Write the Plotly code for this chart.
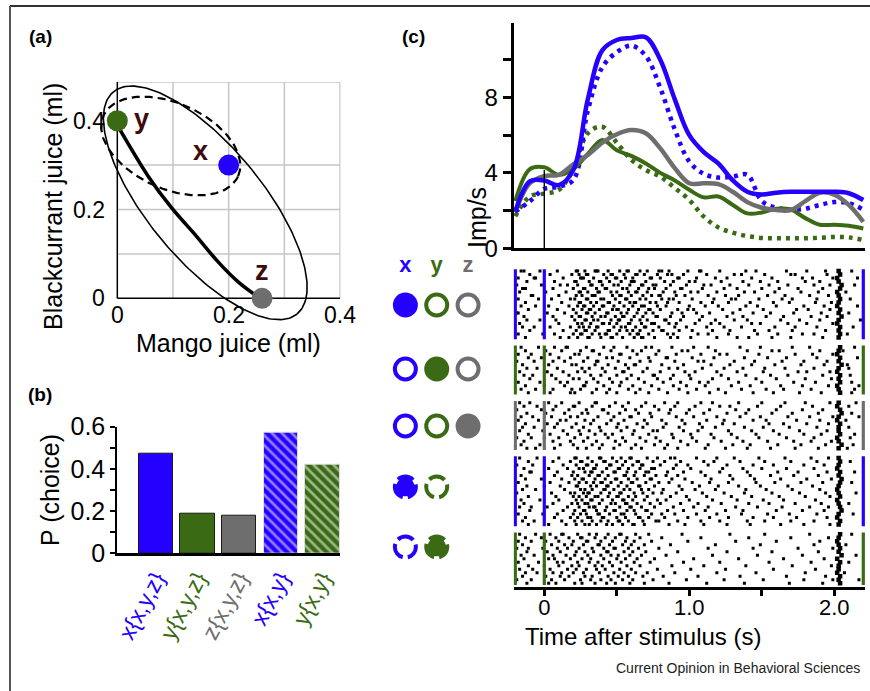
import numpy as np
import plotly.graph_objects as go

W, H = 870, 691
FONT = "Liberation Sans, Arial, Helvetica, sans-serif"
BLUE = "#2400ff"
GREEN = "#3a6b14"
GREY = "#6e6e6e"
MAROON = "#3d0b0b"

# ---------------- (a) data ----------------
options = ["x", "y", "z"]
mango_ml = [0.20, 0.00, 0.26]
blackcurrant_ml = [0.30, 0.40, 0.00]
option_colors = [BLUE, GREEN, GREY]
indiff_mango = [0.0, 0.056, 0.098, 0.14, 0.181, 0.217, 0.245]
indiff_black = [0.39, 0.274, 0.203, 0.143, 0.082, 0.037, 0.01]
# ellipses: centre and two conjugate semi-diameters (ml)
ell_solid_center = [0.158, 0.215]
ell_solid_u = [0.165, -0.250]
ell_solid_v = [0.079, 0.082]
ell_dash_center = [0.096, 0.343]
ell_dash_u = [0.121, -0.068]
ell_dash_v = [0.031, 0.088]
a_ticks = [0.0, 0.2, 0.4]
a_ticktext = ["0", "0.2", "0.4"]
a_grid = [0.1, 0.2, 0.3, 0.4]

# ---------------- (b) data ----------------
choice_labels = ["x{x,y,z}", "y{x,y,z}", "z{x,y,z}", "x{x,y}", "y{x,y}"]
p_choice = [0.47, 0.186, 0.178, 0.573, 0.418]
choice_colors = [BLUE, GREEN, GREY, BLUE, GREEN]
choice_hatched = [False, False, False, True, True]

# ---------------- (c) data ----------------
time_s = [-0.2, -0.1, 0.0, 0.1, 0.2, 0.3, 0.4, 0.5, 0.6, 0.7, 0.8, 0.9, 1.0,
          1.1, 1.2, 1.3, 1.4, 1.5, 1.6, 1.7, 1.8, 1.9, 2.0, 2.1, 2.2]
rate_x_xyz = [1.94, 3.55, 3.6, 3.35, 4.15, 7.9, 10.5, 11.05, 11.15, 11.2, 10.0, 7.9, 6.0,
              5.1, 4.5, 3.6, 3.0, 2.85, 2.95, 3.0, 3.0, 3.0, 3.0, 2.92, 2.56]
rate_x_xy = [1.94, 2.5, 3.15, 3.27, 3.62, 7.3, 9.6, 10.4, 10.75, 10.2, 8.5, 6.3, 4.6,
             3.95, 3.75, 3.8, 3.9, 2.5, 2.15, 2.05, 2.1, 2.3, 2.45, 2.4, 2.05]
rate_y_xyz = [2.5, 4.2, 4.3, 3.9, 4.2, 5.0, 5.75, 5.2, 4.9, 4.5, 4.0, 3.6, 3.1,
              2.7, 2.75, 2.3, 1.85, 1.9, 2.1, 2.05, 1.6, 1.25, 1.25, 1.2, 1.05]
rate_y_xy = [1.7, 2.75, 2.9, 3.1, 4.2, 6.1, 6.45, 5.6, 4.7, 4.15, 3.8, 3.2, 2.56,
             1.68, 1.11, 0.83, 0.65, 0.55, 0.53, 0.53, 0.53, 0.56, 0.6, 0.58, 0.44]
rate_z_xyz = [1.94, 3.45, 3.83, 3.9, 4.45, 4.95, 5.6, 6.05, 6.27, 6.1, 5.3, 4.25, 3.45,
              3.45, 3.4, 3.0, 2.45, 2.15, 2.03, 2.03, 2.5, 2.95, 2.85, 2.3, 1.4]
stim_marker_top = 4.15
c_yticks = [0, 2, 4, 6, 8, 10]
c_yticktext = ["0", "", "4", "", "8", ""]
t_ticks = [0, 0.5, 1.0, 1.5, 2.0]
t_ticktext = ["0", "", "1.0", "", "2.0"]
trial_window = [-0.2, 2.2]

# raster: spike times (centiseconds after stimulus), one string per trial
raster_x_xyz = [
    "-16 -14 -3 9 22 23 28 35 36 37 44 52 57 58 66 71 79 81 86 99 107 108 121 139 146 167 181 194 212",
    "-10 4 19 24 29 30 41 46 47 55 63 64 69 78 85 88 96 112 131 136 152 170 173 195",
    "-18 -7 -6 13 25 26 27 34 43 49 50 56 61 73 74 80 92 93 105 118 126 143 157 178 185 199 216",
    "-12 7 21 22 31 38 39 45 53 60 61 62 70 83 89 100 104 122 137 149 161 180 190",
    "-19 -2 11 16 23 32 33 40 48 51 59 67 68 75 77 87 98 110 115 128 141 155 168 186 197 214",
    "-15 -13 6 20 27 28 36 42 43 54 57 65 72 76 84 94 95 109 124 133 150 162 175 192",
    "-17 1 15 24 25 30 37 38 46 50 58 63 64 71 82 90 101 106 119 138 145 159 177 189 208",
    "-9 -8 10 22 26 33 34 35 47 52 53 60 68 74 79 80 91 97 113 125 134 154 166 183 196",
    "-18 -4 5 18 21 29 30 39 41 49 56 57 66 70 81 86 89 102 117 129 132 148 164 171 188 211",
    "-13 12 24 25 32 36 44 45 52 59 62 63 73 77 85 93 108 116 127 142 158 169 187 198",
    "-16 -6 3 17 23 27 28 34 40 41 48 55 61 67 69 78 84 100 111 120 139 147 160 179 193 216",
    "-11 9 20 26 31 32 38 47 50 51 58 65 72 73 80 92 99 103 123 135 151 174 182 197",
    "-19 -18 2 14 22 29 30 35 43 44 53 57 64 70 75 88 95 105 114 130 144 156 172 191 210",
    "-14 6 19 24 25 33 39 42 49 54 55 62 68 77 78 87 96 109 126 137 153 165 184 195",
    "-12 -3 8 21 28 29 34 37 46 51 52 60 66 71 83 84 94 107 118 131 140 163 176 190 218",
    "-17 10 23 26 32 40 41 45 50 58 59 67 74 76 86 91 104 115 121 143 149 168 181 199",
    "-15 -7 4 18 24 27 31 36 37 48 53 56 63 69 70 79 90 98 112 124 136 159 173 188 213",
    "-10 13 22 28 29 35 44 45 52 57 61 66 75 81 82 93 102 116 128 145 155 171 194",
    "-18 -1 7 20 25 26 33 38 42 43 50 59 64 65 72 85 89 106 113 127 147 161 178 186 209",
    "-13 11 17 23 30 31 39 46 47 54 62 67 68 76 87 92 101 119 133 141 157 170 192",
]
raster_y_xyz = [
    "-16 -4 7 15 16 29 41 48 57 70 74 88 103 113 135 149 171 183 214",
    "-13 1 12 25 33 34 46 61 67 79 95 99 118 140 157 162 190 206",
    "-18 -9 4 21 24 38 52 53 64 77 91 108 121 126 148 173 185 199",
    "-11 -2 10 18 30 43 47 59 72 84 85 102 117 138 154 167 188 216",
    "-19 -7 6 14 27 36 37 51 66 73 90 106 110 131 145 164 179 195",
    "-15 3 19 22 35 44 56 62 63 81 96 115 128 143 159 177 193 209",
    "-12 -5 9 26 31 40 49 58 71 86 92 109 124 137 152 166 186 210",
    "-17 2 13 23 28 42 54 55 68 80 97 104 119 133 151 175 181 197",
    "-14 -8 5 17 32 39 50 60 75 76 89 100 122 139 156 168 192 211",
    "-10 8 20 24 34 45 57 65 78 87 101 116 127 146 160 180 198",
    "-18 -3 11 16 29 37 47 53 69 82 94 107 113 134 150 172 187 212",
    "-13 0 14 27 28 41 52 61 74 89 98 111 129 142 163 178 196 217",
    "-16 -6 6 19 25 36 45 58 66 79 93 105 120 136 153 165 184 214",
    "-11 4 18 21 33 43 50 63 72 85 99 114 125 144 158 176 191 212",
]
raster_z_xyz = [
    "-17 -10 3 12 24 35 36 49 58 70 83 92 108 116 134 150 166 180 197 215",
    "-14 -5 8 20 21 33 45 54 67 76 90 104 121 128 147 163 185 210",
    "-19 -2 6 17 29 40 41 56 63 79 87 100 114 132 141 160 178 192",
    "-12 1 14 26 30 44 52 65 73 86 98 110 126 139 157 171 189 212",
    "-16 -8 5 18 23 37 48 59 60 74 91 103 119 135 149 168 183 199 217",
    "-18 -4 11 15 28 34 46 55 69 81 95 112 124 144 153 174 190 208",
    "-13 2 9 22 32 43 51 64 71 84 97 107 123 131 155 165 181 196",
    "-15 -7 7 19 27 38 50 57 68 82 93 109 118 138 151 169 188 210",
    "-17 -1 13 24 31 39 53 62 75 78 96 106 127 143 158 176 195",
    "-11 4 16 25 35 42 47 61 72 88 101 115 129 146 162 179 191 214",
    "-19 -9 0 10 21 30 44 54 66 77 89 102 117 133 148 167 186 211",
    "-14 6 18 27 36 49 56 70 80 94 105 122 137 154 172 184 198",
    "-16 -3 11 20 33 40 52 63 76 85 99 113 130 142 161 177 194 213",
    "-12 -6 7 23 29 38 48 60 67 83 92 111 125 140 156 173 189 209",
]
raster_x_xy = [
    "-17 -5 10 21 22 30 38 39 47 53 59 60 71 78 87 90 105 119 131 148 166 184 196",
    "-11 6 18 25 26 33 41 42 50 56 64 65 75 83 94 110 117 135 152 170 188 211",
    "-19 -8 13 22 29 30 36 45 46 54 61 67 68 80 91 99 113 126 144 158 179 193",
    "-14 3 16 24 27 34 35 43 51 52 58 66 74 76 89 101 123 137 150 167 186",
    "-10 -9 9 20 28 32 33 40 48 49 57 63 70 72 85 96 108 121 140 161 175 195 214",
    "-16 7 19 23 31 37 38 44 55 56 62 69 77 84 92 111 128 142 156 172 189",
    "-13 -2 12 21 26 27 35 42 49 50 58 64 73 74 88 97 115 130 145 163 181 198",
    "-18 4 17 24 29 34 39 40 46 53 60 61 70 79 86 102 114 127 146 159 177 192 212",
    "-12 0 11 22 23 32 36 43 44 51 57 65 66 76 93 107 120 134 149 168 185",
    "-15 -6 14 25 28 33 41 42 48 55 59 67 72 82 95 104 118 139 153 171 190",
    "-19 5 18 21 27 30 31 39 45 52 53 62 68 75 81 91 109 124 138 157 176 194 215",
    "-11 8 20 24 29 35 37 44 50 51 58 63 71 87 98 112 129 143 162 180 197",
    "-16 -3 10 22 26 32 33 40 47 54 55 61 69 78 84 100 116 133 151 165 187",
    "-14 6 19 23 28 30 38 46 49 56 57 64 73 80 94 106 122 141 155 173 191 210",
    "-17 -9 2 16 24 31 34 35 43 52 59 60 67 76 89 103 113 132 147 164 183 196",
    "-10 13 21 27 28 36 42 48 49 57 62 70 71 85 96 111 125 137 160 178 193",
    "-18 -1 9 20 25 29 37 38 45 53 55 63 74 81 90 105 119 136 154 169 188 213",
    "-13 7 18 23 30 32 40 41 50 56 65 66 72 83 99 114 127 144 158 174 195",
    "-15 -7 12 21 26 33 39 44 51 52 58 68 77 79 92 108 121 140 152 170 186",
    "-11 3 15 22 28 31 36 43 47 54 61 62 69 86 97 110 126 142 163 179 197",
]
raster_y_xy = [
    "-17 -6 4 12 13 23 31 36 44 52 53 63 72 95 128 152 183 212",
    "-13 -2 8 17 25 26 35 42 49 57 66 81 108 141 170 196",
    "-18 -9 1 10 20 29 30 39 47 56 62 74 99 132 160 190",
    "-15 5 14 19 27 37 38 45 54 60 69 87 118 149 186 208",
    "-19 -11 -1 9 16 24 33 41 48 49 58 65 79 113 144 175 199",
    "-12 2 11 22 28 34 43 44 55 61 70 92 126 157 189",
    "-16 -7 6 15 21 30 39 46 51 59 67 84 116 147 178 215",
    "-14 3 7 18 26 32 41 50 56 64 76 103 134 165 193",
    "-18 -4 9 13 23 31 37 45 53 62 73 96 121 155 184 210",
    "-11 0 10 19 24 35 40 47 57 66 88 110 139 171 198",
    "-17 -8 4 16 22 29 36 42 52 60 78 101 125 158 187",
    "-13 -5 6 12 20 27 38 48 55 63 71 90 119 146 180 207",
    "-15 1 11 17 28 33 44 51 58 68 82 106 135 167 194",
    "-19 -9 5 14 25 32 39 46 54 61 75 98 124 151 179 199 217",
    "-12 3 8 21 26 35 43 49 59 69 86 112 138 169 192",
]
events_x_xyz = "203 204 202 203 205 204 202 203 204 203 202 204 203 205 203 202 204 203 204 203"
events_y_xyz = "204 203 202 204 203 205 203 202 204 203 204 202 203 204"
events_z_xyz = "203 202 204 205 203 202 204 203 203 204 202 203 205 203"
events_x_xy = "203 204 203 202 204 203 205 204 203 202 203 204 202 203 204 205 203 202 204 203"
events_y_xy = "204 203 202 203 204 203 205 202 204 203 203 202 204 203 204"

raster_blocks = [raster_x_xyz, raster_y_xyz, raster_z_xyz, raster_x_xy, raster_y_xy]
event_blocks = [events_x_xyz, events_y_xyz, events_z_xyz, events_x_xy, events_y_xy]
block_colors = [BLUE, GREEN, GREY, BLUE, GREEN]
legend_states = [
    ["filled", "open", "open"],
    ["open", "filled", "open"],
    ["open", "open", "filled"],
    ["notched", "dashed", None],
    ["dashed", "notched", None],
]

# ---------------- layout helpers (pixels -> paper) ----------------
def pxx(p):
    return p / W

def pxy(p):
    return 1 - p / H

fig = go.Figure()
shapes = []
ann = []

def text_ann(x_px, y_px, text, size, angle=0, color="black", xanchor="center"):
    ann.append(dict(x=pxx(x_px), y=pxy(y_px), xref="paper", yref="paper", text=text,
                    showarrow=False, textangle=angle, xanchor=xanchor, yanchor="middle",
                    font=dict(family=FONT, size=size, color=color)))

# ================= panel (a) =================
A_XR = [-0.045, 0.401]
A_YR = [-0.065, 0.487]
GRID_TOP = 0.487
for g in a_grid:
    shapes.append(dict(type="line", xref="x", yref="y", x0=g, x1=g, y0=0, y1=GRID_TOP,
                       line=dict(color="#c6c6c6", width=1.5), layer="below"))
for g in a_grid[:-1] + [GRID_TOP]:
    shapes.append(dict(type="line", xref="x", yref="y", x0=0, x1=0.4, y0=g, y1=g,
                       line=dict(color="#c6c6c6", width=1.5), layer="below"))
shapes.append(dict(type="line", xref="x", yref="y", x0=0, x1=0, y0=0, y1=GRID_TOP,
                   line=dict(color="black", width=1.5), layer="below"))
shapes.append(dict(type="line", xref="x", yref="y", x0=0, x1=0.4, y0=0, y1=0,
                   line=dict(color="black", width=1.5), layer="below"))

tt = np.linspace(0, 2 * np.pi, 240)
for c, u, v, dash, lw in [(ell_solid_center, ell_solid_u, ell_solid_v, "solid", 1.6),
                          (ell_dash_center, ell_dash_u, ell_dash_v, "8px,5px", 2.2)]:
    ex = c[0] + u[0] * np.cos(tt) + v[0] * np.sin(tt)
    ey = c[1] + u[1] * np.cos(tt) + v[1] * np.sin(tt)
    fig.add_trace(go.Scatter(x=ex, y=ey, mode="lines", xaxis="x", yaxis="y",
                             line=dict(color="black", width=lw, dash=dash),
                             hoverinfo="skip", showlegend=False))
fig.add_trace(go.Scatter(x=indiff_mango, y=indiff_black, mode="lines", xaxis="x", yaxis="y",
                         line=dict(color="black", width=3.6, shape="spline"),
                         hoverinfo="skip", showlegend=False))
for v, t in zip(a_ticks, a_ticktext):
    ann.append(dict(x=v, y=0, xref="x", yref="y", text=t, showarrow=False, yshift=-17,
                    xanchor="center", yanchor="middle", font=dict(family=FONT, size=23, color="black")))
    ann.append(dict(x=0, y=v, xref="x", yref="y", text=t, showarrow=False, xshift=-10,
                    xanchor="right", yanchor="middle", font=dict(family=FONT, size=23, color="black")))
fig.add_trace(go.Scatter(x=mango_ml, y=blackcurrant_ml, mode="markers", xaxis="x", yaxis="y",
                         marker=dict(color=option_colors, size=21, line=dict(width=0)),
                         hoverinfo="skip", showlegend=False))
label_shift = {"x": (-28, 14), "y": (24, 2), "z": (0, 27)}
for name, mx, my in zip(options, mango_ml, blackcurrant_ml):
    dx, dy = label_shift[name]
    ann.append(dict(x=mx, y=my, xref="x", yref="y", text=f"<b>{name}</b>", showarrow=False,
                    xshift=dx, yshift=dy, xanchor="center", yanchor="middle",
                    font=dict(family=FONT, size=27, color=MAROON)))
text_ann(228, 343, "Mango juice (ml)", 25)
text_ann(53, 207, "Blackcurrant juice (ml)", 25, angle=-90)

# ================= panel (b) =================
fig.add_trace(go.Bar(
    x=list(range(len(p_choice))), y=p_choice, xaxis="x2", yaxis="y2", width=0.82,
    marker=dict(color=choice_colors,
                line=dict(color=["#1a1a1a" if not h else "#dddddd" for h in choice_hatched], width=1),
                pattern=dict(shape=["\\" if h else "" for h in choice_hatched],
                             fgcolor="white", size=7, solidity=0.38)),
    hoverinfo="skip", showlegend=False))
b_ticktext = [f"<span style='color:{c}'>{lab}</span>" for lab, c in zip(choice_labels, choice_colors)]

# ================= panel (c) top =================
for y, col, dash, lw in [(rate_y_xy, GREEN, "4px,5px", 4.5), (rate_x_xy, BLUE, "4px,5px", 4.5),
                         (rate_y_xyz, GREEN, "solid", 4), (rate_z_xyz, GREY, "solid", 4.5),
                         (rate_x_xyz, BLUE, "solid", 4.5)]:
    fig.add_trace(go.Scatter(x=time_s, y=y, mode="lines", xaxis="x3", yaxis="y3",
                             line=dict(color=col, width=lw, dash=dash, shape="spline", smoothing=1.0),
                             hoverinfo="skip", showlegend=False))
shapes.append(dict(type="line", xref="x3", yref="y3", x0=0, x1=0, y0=0, y1=stim_marker_top,
                   line=dict(color="black", width=1.4)))

# ================= raster =================
BLOCK_GAP = 1.8
spk_x, spk_y, evt_x, evt_y, spans = [], [], [], [], []
first = 0.0
for trials, events in zip(raster_blocks, event_blocks):
    evs = [int(s) / 100 for s in events.split()]
    for i, s in enumerate(trials):
        for v in s.split():
            spk_x.append(int(v) / 100)
            spk_y.append(first + i)
        evt_x.append(evs[i])
        evt_y.append(first + i)
    spans.append((first - 0.5, first + len(trials) - 0.5))
    first += len(trials) + BLOCK_GAP
fig.add_trace(go.Scatter(x=spk_x, y=spk_y, mode="markers", xaxis="x4", yaxis="y4",
                         marker=dict(symbol="square", size=3, color="black", line=dict(width=0)),
                         hoverinfo="skip", showlegend=False))
fig.add_trace(go.Scatter(x=evt_x, y=evt_y, mode="markers", xaxis="x4", yaxis="y4",
                         marker=dict(symbol="square", size=4.5, color="black", line=dict(width=0)),
                         hoverinfo="skip", showlegend=False))
for (y0, y1), col in zip(spans, block_colors):
    for tx in [trial_window[0], 0.0, trial_window[1]]:
        shapes.append(dict(type="line", xref="x4", yref="y4", x0=tx, x1=tx, y0=y0, y1=y1,
                           line=dict(color=col, width=3.2)))

RASTER_TOP_PX, RASTER_BOT_PX, ROW_PX = 250.0, 586.7, 3.5
Y4_TOP = -6.01
Y4_BOT = Y4_TOP + (RASTER_BOT_PX - RASTER_TOP_PX) / ROW_PX

def raster_unit(p):
    return Y4_TOP + (p - RASTER_TOP_PX) / ROW_PX

# ================= legend symbols =================
X5_DOM = (385.0, 490.0)
X5_RANGE = [-0.65, 2.7]
PX_PER_X5 = (X5_DOM[1] - X5_DOM[0]) / (X5_RANGE[1] - X5_RANGE[0])
legend_row_px = [305, 369, 426, 487, 547]
header_px = 266.7

def circ(cx, cy, r_px, **kw):
    rx = r_px / PX_PER_X5
    ry = r_px / ROW_PX
    d = dict(type="circle", xref="x5", yref="y4", x0=cx - rx, x1=cx + rx, y0=cy - ry, y1=cy + ry)
    d.update(kw)
    return d

def dash_list(degs, r_px):
    circ_len = 2 * np.pi * r_px
    return ",".join(f"{d * circ_len / 360:.2f}px" for d in degs)

GAP_DEG = 28
ring_deg = [90 - GAP_DEG / 2, GAP_DEG, 120 - GAP_DEG, GAP_DEG, 120 - GAP_DEG, GAP_DEG, 30 - GAP_DEG / 2]
notch_deg = [0] + ring_deg
for row, py in zip(legend_states, legend_row_px):
    cy = raster_unit(py)
    for ci, (state, col) in enumerate(zip(row, option_colors)):
        if state is None:
            continue
        if state == "filled":
            shapes.append(circ(ci, cy, 12.5, fillcolor=col, line=dict(width=0)))
        elif state == "open":
            shapes.append(circ(ci, cy, 10.5, fillcolor="rgba(0,0,0,0)", line=dict(color=col, width=4)))
        elif state == "dashed":
            shapes.append(circ(ci, cy, 10.5, fillcolor="rgba(0,0,0,0)",
                               line=dict(color=col, width=4, dash=dash_list(ring_deg, 10.5))))
        elif state == "notched":
            shapes.append(circ(ci, cy, 12.5, fillcolor=col, line=dict(width=0)))
            shapes.append(circ(ci, cy, 11.5, fillcolor="rgba(0,0,0,0)",
                               line=dict(color="white", width=4.5, dash=dash_list(notch_deg, 11.5))))
fig.add_trace(go.Scatter(x=[0, 1, 2], y=[raster_unit(header_px)] * 3, mode="text", xaxis="x5", yaxis="y4",
                         text=[f"<b>{o}</b>" for o in options],
                         textfont=dict(family=FONT, size=22, color=option_colors),
                         hoverinfo="skip", showlegend=False))

# ================= text =================
for lab, x, y in [("(a)", 40, 36), ("(b)", 40, 394), ("(c)", 413, 36)]:
    text_ann(x, y, f"<b>{lab}</b>", 19)
text_ann(50, 490, "P (choice)", 25, angle=-90)
text_ann(477, 218, "Imp/s", 25, angle=-90)
text_ann(643, 636, "Time after stimulus (s)", 24)
text_ann(862, 668, "Current Opinion in Behavioral Sciences", 14, color="#222222", xanchor="right")

# frame
shapes.append(dict(type="line", xref="paper", yref="paper", x0=pxx(10), x1=1, y0=pxy(6), y1=pxy(6),
                   line=dict(color="#333333", width=2)))
shapes.append(dict(type="line", xref="paper", yref="paper", x0=pxx(10), x1=pxx(10), y0=0, y1=pxy(6),
                   line=dict(color="#555555", width=2)))

T_RANGE = [-0.212, 2.215]
T_DOM = [pxx(544.3 + 145 * T_RANGE[0]), pxx(544.3 + 145 * T_RANGE[1])]

fig.update_layout(
    width=W, height=H, margin=dict(l=0, r=0, t=0, b=0, pad=0, autoexpand=False),
    paper_bgcolor="white", plot_bgcolor="white", showlegend=False,
    font=dict(family=FONT, color="black"),
    bargap=0,
    xaxis=dict(domain=[pxx(117.3 + 556.8 * A_XR[0]), pxx(117.3 + 556.8 * A_XR[1])], range=A_XR,
               visible=False, anchor="y"),
    yaxis=dict(domain=[pxy(298.3 - 444 * A_YR[0]), pxy(298.3 - 444 * A_YR[1])], range=A_YR,
               visible=False, anchor="x"),
    xaxis2=dict(domain=[pxx(117), pxx(340)], range=[-0.93, 4.42], anchor="y2",
                tickvals=list(range(len(choice_labels))), ticktext=b_ticktext, tickangle=-62,
                tickfont=dict(family=FONT, size=23), ticks="", showline=True, linecolor="black",
                linewidth=2.5, showgrid=False, zeroline=False),
    yaxis2=dict(domain=[pxy(553.3), pxy(426.7)], range=[0, 0.6], anchor="x2",
                tickvals=[0, 0.1, 0.2, 0.3, 0.4, 0.5, 0.6],
                ticktext=["0", "", "0.2", "", "0.4", "", "0.6"],
                ticks="outside", ticklen=5, tickwidth=1.5, tickcolor="black",
                tickfont=dict(family=FONT, size=25), showline=True, linecolor="black",
                linewidth=1.5, showgrid=False, zeroline=False),
    xaxis3=dict(domain=T_DOM, range=T_RANGE, anchor="y3", matches="x4", showticklabels=False,
                ticks="", showline=True, linecolor="black", linewidth=3, showgrid=False, zeroline=False),
    yaxis3=dict(domain=[pxy(248.3), pxy(23)], range=[0, 11.95], anchor="x3",
                tickvals=c_yticks, ticktext=c_yticktext, ticks="outside", ticklen=8, tickwidth=2.5,
                tickcolor="black", tickfont=dict(family=FONT, size=24), showline=True,
                linecolor="black", linewidth=3, showgrid=False, zeroline=False),
    xaxis4=dict(domain=T_DOM, range=T_RANGE, anchor="y4", tickvals=t_ticks, ticktext=t_ticktext,
                ticks="outside", ticklen=6, tickwidth=3, tickcolor="black", ticklabelstandoff=-7,
                tickfont=dict(family=FONT, size=22), showline=True, linecolor="black", linewidth=3,
                showgrid=False, zeroline=False),
    yaxis4=dict(domain=[pxy(RASTER_BOT_PX), pxy(RASTER_TOP_PX)], range=[Y4_BOT, Y4_TOP],
                anchor="x4", visible=False),
    xaxis5=dict(domain=[pxx(X5_DOM[0]), pxx(X5_DOM[1])], range=X5_RANGE, anchor="y4", visible=False),
    shapes=shapes,
    annotations=ann,
)

fig.write_html("out.html", config={"displayModeBar": False},
               post_script="document.body.style.margin='0';document.body.style.overflow='hidden';")
